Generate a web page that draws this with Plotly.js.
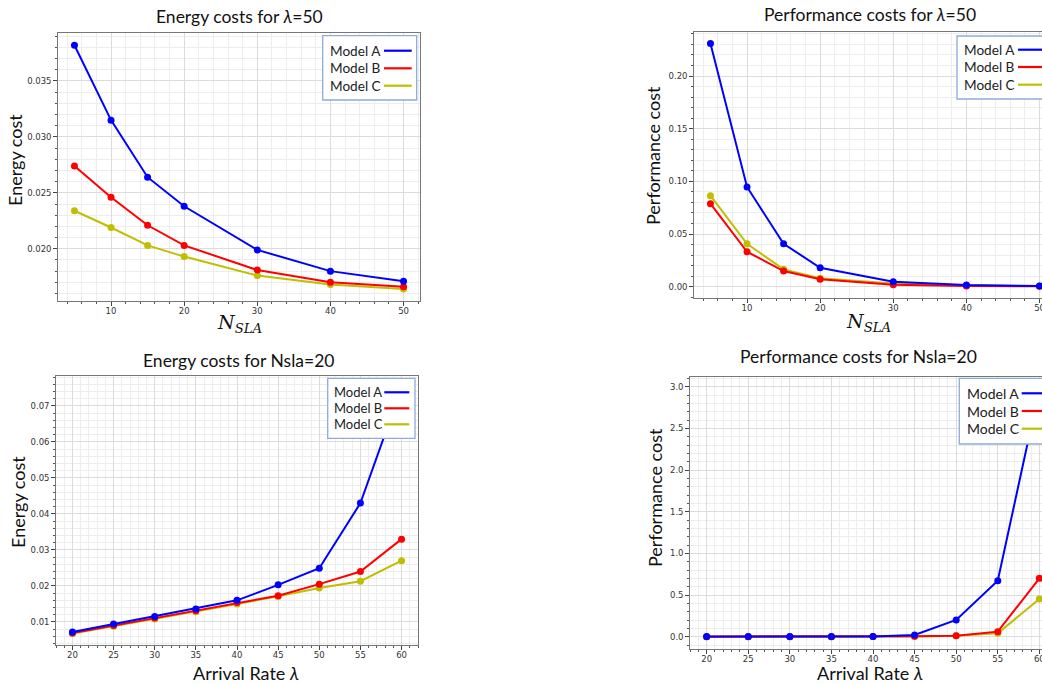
<!DOCTYPE html>
<html>
<head>
<meta charset="utf-8">
<script src="https://cdn.plot.ly/plotly-3.0.1.min.js"></script>
<style>
html,body{margin:0;padding:0;overflow:hidden;background:#fff;}
#chart{width:1070px;height:684px;}
</style>
</head>
<body>
<div id="chart"></div>
<script>
// ---- Data ----
const nsla = [5, 10, 15, 20, 30, 40, 50];
const energyA_nsla = [0.0382, 0.0315, 0.0264, 0.0238, 0.0199, 0.0180, 0.0171];
const energyB_nsla = [0.0274, 0.0246, 0.0221, 0.0203, 0.0181, 0.0170, 0.0166];
const energyC_nsla = [0.0234, 0.0219, 0.0203, 0.0193, 0.0176, 0.0168, 0.0164];

const perfA_nsla = [0.231, 0.0947, 0.0408, 0.0180, 0.0047, 0.0016, 0.0007];
const perfB_nsla = [0.0788, 0.0332, 0.0149, 0.0070, 0.0019, 0.0007, 0.0004];
const perfC_nsla = [0.0864, 0.0408, 0.0165, 0.0080, 0.0030, 0.0012, 0.0006];

const lambdaRates = [20, 25, 30, 35, 40, 45, 50, 55, 60];
const energyA_lam = [0.0072, 0.0094, 0.0115, 0.0136, 0.0160, 0.0203, 0.0249, 0.0430, 0.0750];
const energyB_lam = [0.0069, 0.0090, 0.0111, 0.0131, 0.0154, 0.0173, 0.0205, 0.0240, 0.0330];
const energyC_lam = [0.0068, 0.0088, 0.0108, 0.0128, 0.0150, 0.0171, 0.0194, 0.0213, 0.0270];

const perfA_lam = [0.002, 0.002, 0.002, 0.002, 0.003, 0.02, 0.20, 0.672, 2.97];
const perfB_lam = [0.000, 0.000, 0.000, 0.000, 0.001, 0.004, 0.012, 0.06, 0.70];
const perfC_lam = [0.000, 0.000, 0.000, 0.000, 0.001, 0.003, 0.010, 0.04, 0.452];

const modelNames = ['Model A', 'Model B', 'Model C'];
const modelColors = ['#0000ff', '#ff0000', '#bfbf00'];

const titles = ['Energy costs for <i>λ</i>=50', 'Performance costs for <i>λ</i>=50',
                'Energy costs for Nsla=20', 'Performance costs for Nsla=20'];
const yTitles = ['Energy cost', 'Performance cost', 'Energy cost', 'Performance cost'];

// ---- Layout helpers ----
const W = 1070, H = 684;
const px = x => x / W;
const py = y => 1 - y / H;

const FONT = 'Lato, "Open Sans", sans-serif';
const TICKFONT = {family: '"DejaVu Sans", sans-serif', size: 8.5, color: '#333'};

const boxes = [
  {x0: 58, x1: 420, y0: 33, y1: 301},
  {x0: 694, x1: 1056, y0: 32, y1: 298},
  {x0: 56, x1: 418, y0: 376, y1: 645},
  {x0: 690, x1: 1056, y0: 377, y1: 649}
];

const datasets = [
  {x: nsla, ys: [energyA_nsla, energyB_nsla, energyC_nsla]},
  {x: nsla, ys: [perfA_nsla, perfB_nsla, perfC_nsla]},
  {x: lambdaRates, ys: [energyA_lam, energyB_lam, energyC_lam]},
  {x: lambdaRates, ys: [perfA_lam, perfB_lam, perfC_lam]}
];

const traces = [];
datasets.forEach((d, i) => {
  const sfx = i === 0 ? '' : String(i + 1);
  [2, 1, 0].forEach(m => {
    traces.push({
      x: d.x, y: d.ys[m], type: 'scatter', mode: 'lines+markers',
      name: modelNames[m], showlegend: false,
      line: {color: modelColors[m], width: 2},
      marker: {color: modelColors[m], size: 7},
      xaxis: 'x' + sfx, yaxis: 'y' + sfx, cliponaxis: true
    });
  });
});

function xax(i, range, tickvals, minorDtick) {
  return {
    domain: [px(boxes[i].x0), px(boxes[i].x1)],
    anchor: 'y' + (i === 0 ? '' : i + 1),
    range: range, tickvals: tickvals, ticks: 'outside', ticklen: 3.5, tickcolor: '#444',
    ticklabelstandoff: -2,
    tickfont: TICKFONT, showline: true, mirror: true, linecolor: '#777', linewidth: 1.3,
    showgrid: true, gridcolor: '#dcdcdc', gridwidth: 1, zeroline: false,
    minor: {dtick: minorDtick, tick0: 0, ticks: 'outside', ticklen: 2, tickcolor: '#555', showgrid: true, gridcolor: '#ededed', gridwidth: 1}
  };
}
function yax(i, range, tickvals, fmt, minorDtick) {
  return {
    domain: [py(boxes[i].y1), py(boxes[i].y0)],
    anchor: 'x' + (i === 0 ? '' : i + 1),
    range: range, tickvals: tickvals, tickformat: fmt, ticks: 'outside', ticklen: 3.5, tickcolor: '#444',
    tickfont: TICKFONT, showline: true, mirror: true, linecolor: '#777', linewidth: 1.3,
    showgrid: true, gridcolor: '#dcdcdc', gridwidth: 1, zeroline: false,
    minor: {dtick: minorDtick, tick0: 0, ticks: 'outside', ticklen: 2, tickcolor: '#555', showgrid: true, gridcolor: '#ededed', gridwidth: 1}
  };
}

const layout = {
  width: W, height: H,
  margin: {l: 0, r: 0, t: 0, b: 0},
  paper_bgcolor: '#fff', plot_bgcolor: '#fff',
  showlegend: false,
  xaxis: xax(0, [2.75, 52.25], [10, 20, 30, 40, 50], 2),
  yaxis: yax(0, [0.01533, 0.03929], [0.020, 0.025, 0.030, 0.035], '.3f', 0.001),
  xaxis2: xax(1, [2.75, 52.25], [10, 20, 30, 40, 50], 2),
  yaxis2: yax(1, [-0.0107, 0.2418], [0, 0.05, 0.10, 0.15, 0.20], '.2f', 0.01),
  xaxis3: xax(2, [18, 62], [20, 25, 30, 35, 40, 45, 50, 55, 60], 1),
  yaxis3: yax(2, [0.0036, 0.0783], [0.01, 0.02, 0.03, 0.04, 0.05, 0.06, 0.07], '.2f', 0.002),
  xaxis4: xax(3, [18, 62], [20, 25, 30, 35, 40, 45, 50, 55, 60], 1),
  yaxis4: yax(3, [-0.148, 3.116], [0, 0.5, 1.0, 1.5, 2.0, 2.5, 3.0], '.1f', 0.1),
  shapes: [], annotations: []
};

// Titles
const titlePos = [[239, 16], [870, 14], [238, 360], [858, 356]];
titles.forEach((t, i) => layout.annotations.push({
  text: t, x: px(titlePos[i][0]), y: py(titlePos[i][1]), xref: 'paper', yref: 'paper',
  xanchor: 'center', yanchor: 'middle', showarrow: false,
  font: {family: FONT, size: 17.5, color: '#111'}
}));
// Y titles
const yTitlePos = [[15, 160], [653, 156], [18, 502], [655, 498]];
yTitles.forEach((t, i) => layout.annotations.push({
  text: t, x: px(yTitlePos[i][0]), y: py(yTitlePos[i][1]), xref: 'paper', yref: 'paper',
  xanchor: 'center', yanchor: 'middle', showarrow: false, textangle: -90,
  font: {family: FONT, size: 18, color: '#111'}
}));
// X titles
const nslaTitle = '<i>N</i><sub><i>SLA</i></sub>';
const lamTitle = 'Arrival Rate <i>λ</i>';
const xTitles = [nslaTitle, nslaTitle, lamTitle, lamTitle];
const xTitlePos = [[239, 324], [868, 322], [246, 673], [870, 673]];
xTitles.forEach((t, i) => layout.annotations.push({
  text: t, x: px(xTitlePos[i][0]), y: py(xTitlePos[i][1]), xref: 'paper', yref: 'paper',
  xanchor: 'center', yanchor: 'middle', showarrow: false,
  font: {family: i < 2 ? '"DejaVu Serif", serif' : FONT, size: i < 2 ? 19 : 18, color: '#111'}
}));

// Legends (text left, line sample right)
const legends = [
  {bx0: 322.7, bx1: 416.7, by0: 35.7, by1: 100, tx: 328.5, lx0: 384, lx1: 411.7, rows: [50.7, 68.3, 85.7], fs: 13.6},
  {bx0: 957, bx1: 1052.7, by0: 36, by1: 99, tx: 962.5, lx0: 1018, lx1: 1046, rows: [49.7, 67, 84.7], fs: 13.6},
  {bx0: 327.7, bx1: 415, by0: 378.3, by1: 438.3, tx: 333, lx0: 384.3, lx1: 409.3, rows: [392.3, 408.3, 424.3], fs: 13},
  {bx0: 959.3, bx1: 1052.7, by0: 378.3, by1: 444, tx: 965.5, lx0: 1021.7, lx1: 1049, rows: [393.3, 411, 428.7], fs: 14}
];
legends.forEach(L => {
  layout.shapes.push({type: 'rect', xref: 'paper', yref: 'paper', layer: 'above',
    x0: px(L.bx0), x1: px(L.bx1), y0: py(L.by1), y1: py(L.by0),
    fillcolor: '#fff', line: {color: '#8faadc', width: 1.3}});
  modelNames.forEach((n, m) => {
    layout.shapes.push({type: 'line', xref: 'paper', yref: 'paper', layer: 'above',
      x0: px(L.lx0), x1: px(L.lx1), y0: py(L.rows[m]), y1: py(L.rows[m]),
      line: {color: modelColors[m], width: 2.2}});
    layout.annotations.push({text: n, x: px(L.tx), y: py(L.rows[m]), xref: 'paper', yref: 'paper',
      xanchor: 'left', yanchor: 'middle', showarrow: false, borderpad: 0,
      font: {family: FONT, size: L.fs, color: '#222'}});
  });
});

Plotly.newPlot('chart', traces, layout, {staticPlot: true, displayModeBar: false});
</script>
</body>
</html>
